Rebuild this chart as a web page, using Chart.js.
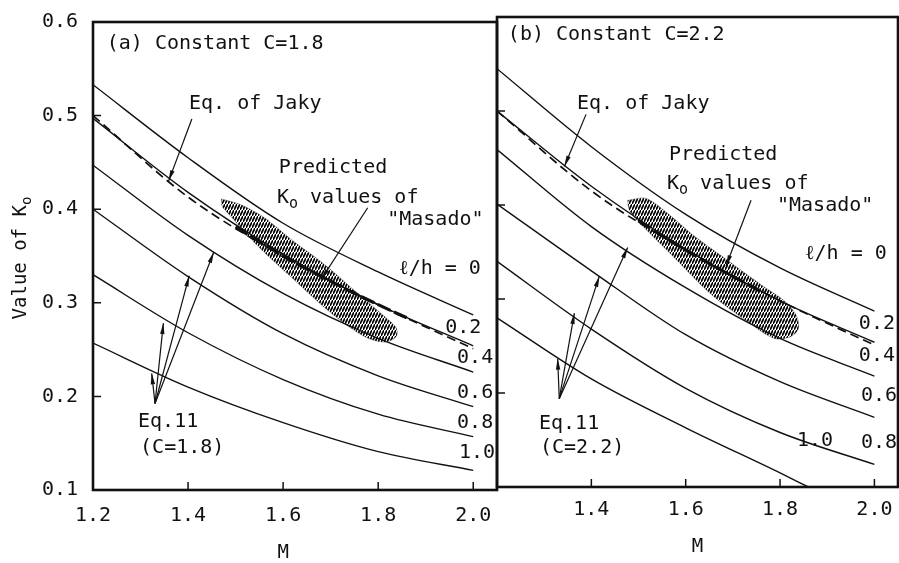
<!DOCTYPE html>
<html>
<head>
<meta charset="utf-8">
<script src="https://cdn.jsdelivr.net/npm/chart.js@4.4.1/dist/chart.umd.min.js"></script>
<style>
html, body { margin: 0; padding: 0; background: #fff; }
body { width: 899px; height: 563px; position: relative; overflow: hidden; }
canvas { position: absolute; top: 0; }
#left { left: 0; }
#right { left: 494px; }
</style>
</head>
<body>
<canvas id="left" width="500" height="563"></canvas>
<canvas id="right" width="405" height="563"></canvas>
<script>
// values, M on x, Ko on y
var mValues = [1.2, 1.4, 1.6, 1.8, 2.0];
var lhLabels = ['0', '0.2', '0.4', '0.6', '0.8', '1.0'];

// (a) constant C = 1.8
var a_lh00 = [0.533, 0.455, 0.385, 0.333, 0.287];
var a_lh02 = [0.497, 0.418, 0.352, 0.298, 0.254];
var a_lh04 = [0.447, 0.372, 0.310, 0.262, 0.226];
var a_lh06 = [0.400, 0.328, 0.267, 0.222, 0.189];
var a_lh08 = [0.330, 0.268, 0.218, 0.181, 0.157];
var a_lh10 = [0.257, 0.210, 0.172, 0.141, 0.121];
var a_jaky = [0.500, 0.413, 0.350, 0.298, 0.251];

// (b) constant C = 2.2
var b_lh00 = [0.545, 0.462, 0.390, 0.333, 0.287];
var b_lh02 = [0.500, 0.420, 0.353, 0.298, 0.254];
var b_lh04 = [0.459, 0.377, 0.312, 0.258, 0.218];
var b_lh06 = [0.401, 0.330, 0.262, 0.212, 0.174];
var b_lh08 = [0.340, 0.268, 0.205, 0.158, 0.124];
var b_lh10M = [1.2, 1.4, 1.6, 1.8, 1.86];
var b_lh10 = [0.280, 0.215, 0.163, 0.115, 0.100];
var b_jaky = [0.500, 0.415, 0.352, 0.298, 0.251];

// predicted Ko of "Masado" (hatched zone outline)
var a_masadoM = [1.470, 1.510, 1.560, 1.616, 1.687, 1.757, 1.814, 1.838, 1.838, 1.814, 1.771, 1.701, 1.616, 1.546, 1.489, 1.472];
var a_masadoK = [0.411, 0.405, 0.391, 0.368, 0.341, 0.310, 0.285, 0.273, 0.264, 0.258, 0.264, 0.289, 0.328, 0.361, 0.393, 0.403];
var b_masadoM = [1.477, 1.516, 1.562, 1.618, 1.689, 1.760, 1.809, 1.834, 1.839, 1.823, 1.788, 1.731, 1.654, 1.576, 1.512, 1.481];
var b_masadoK = [0.405, 0.407, 0.391, 0.367, 0.341, 0.315, 0.298, 0.283, 0.269, 0.260, 0.258, 0.276, 0.305, 0.344, 0.376, 0.394];

// heavy trace of the Jaky line through the zone
var a_traceM = [1.50, 1.60, 1.70, 1.80, 1.86];
var a_traceK = [0.381, 0.350, 0.323, 0.298, 0.284];
var b_traceM = [1.50, 1.60, 1.70, 1.76];
var b_traceK = [0.383, 0.352, 0.324, 0.308];

var FONT = '"DejaVu Sans Mono", monospace';
var INK = '#111';

function pts(ms, ks) {
	var out = [];
	for (var i = 0; i < ms.length; i++) {
		out.push({x: ms[i], y: ks[i]});
	}
	return out;
}

function curve(ms, ks, dashed) {
	return {
		data: pts(ms, ks),
		showLine: true,
		borderColor: INK,
		borderWidth: dashed ? 1.7 : 1.4,
		borderDash: dashed ? [9, 5] : [],
		pointRadius: 0,
		cubicInterpolationMode: 'monotone',
		fill: false,
		order: 1
	};
}

function trace(ms, ks) {
	var d = curve(ms, ks, true);
	d.borderWidth = 3.2;
	d.borderDash = [14, 4];
	d.order = 2;
	return d;
}

function hatch() {
	var c = document.createElement('canvas');
	c.width = 3;
	c.height = 6;
	var g = c.getContext('2d');
	g.strokeStyle = '#000';
	g.lineWidth = 1.7;
	g.beginPath();
	g.moveTo(0, 6);
	g.lineTo(3, 0);
	g.stroke();
	return g.createPattern(c, 'repeat');
}

function zone(ms, ks) {
	var d = pts(ms, ks);
	d.push({x: ms[0], y: ks[0]});
	return {
		data: d,
		showLine: true,
		borderColor: 'rgba(40,40,40,0.6)',
		borderWidth: 0.6,
		backgroundColor: hatch(),
		fill: 'shape',
		tension: 0.3,
		pointRadius: 0,
		order: 10
	};
}

// text and arrows of the figure, drawn in data coordinates
var figureNotes = {
	id: 'figureNotes',
	afterDraw: function(chart, args, opts) {
		var ctx = chart.ctx;
		var xs = chart.scales.x;
		var ys = chart.scales.y;
		var area = chart.chartArea;

		ctx.save();
		ctx.strokeStyle = INK;
		ctx.fillStyle = INK;

		// frame
		ctx.lineWidth = 2.6;
		ctx.strokeRect(area.left, area.top, area.right - area.left, area.bottom - area.top);

		// inward tick marks
		ctx.lineWidth = 1.5;
		ctx.beginPath();
		xs.ticks.forEach(function(t) {
			var px = xs.getPixelForValue(t.value);
			if (px > area.left + 2 && px < area.right - 2) {
				ctx.moveTo(px, area.bottom);
				ctx.lineTo(px, area.bottom - 8);
			}
		});
		ys.ticks.forEach(function(t) {
			var py = ys.getPixelForValue(t.value);
			if (py > area.top + 2 && py < area.bottom - 2) {
				ctx.moveTo(area.left, py);
				ctx.lineTo(area.left + 8, py);
			}
		});
		ctx.stroke();

		// arrows
		ctx.lineWidth = 1.2;
		(opts.arrows || []).forEach(function(a) {
			var x0 = xs.getPixelForValue(a[0]), y0 = ys.getPixelForValue(a[1]);
			var x1 = xs.getPixelForValue(a[2]), y1 = ys.getPixelForValue(a[3]);
			var ang = Math.atan2(y1 - y0, x1 - x0);
			ctx.beginPath();
			ctx.moveTo(x0, y0);
			ctx.lineTo(x1, y1);
			ctx.stroke();
			ctx.beginPath();
			ctx.moveTo(x1, y1);
			ctx.lineTo(x1 - 11 * Math.cos(ang) + 2.2 * Math.sin(ang), y1 - 11 * Math.sin(ang) - 2.2 * Math.cos(ang));
			ctx.lineTo(x1 - 11 * Math.cos(ang) - 2.2 * Math.sin(ang), y1 - 11 * Math.sin(ang) + 2.2 * Math.cos(ang));
			ctx.closePath();
			ctx.fill();
		});

		// labels
		ctx.textBaseline = 'middle';
		ctx.textAlign = 'left';
		(opts.texts || []).forEach(function(t) {
			var px = xs.getPixelForValue(t.x);
			var py = ys.getPixelForValue(t.y);
			ctx.font = '20px ' + FONT;
			if (t.sub) {
				ctx.fillText('K', px, py);
				var w = ctx.measureText('K').width;
				ctx.font = '15px ' + FONT;
				ctx.fillText('o', px + w, py + 6);
				var w2 = ctx.measureText('o').width;
				ctx.font = '20px ' + FONT;
				ctx.fillText(t.t, px + w + w2, py);
			} else {
				ctx.fillText(t.t, px, py);
			}
		});

		// axis titles
		if (opts.xTitle) {
			ctx.font = '19px ' + FONT;
			ctx.textAlign = 'center';
			ctx.fillText('M', xs.getPixelForValue(opts.xTitle[0]), opts.xTitle[1]);
		}
		if (opts.yTitle) {
			ctx.translate(opts.yTitle[0], opts.yTitle[1]);
			ctx.rotate(-Math.PI / 2);
			ctx.font = '19px ' + FONT;
			ctx.textAlign = 'left';
			var s = 'Value of K';
			var sw = ctx.measureText(s).width;
			ctx.font = '14px ' + FONT;
			var ow = ctx.measureText('o').width;
			var start = -(sw + ow) / 2;
			ctx.font = '19px ' + FONT;
			ctx.fillText(s, start, 0);
			ctx.font = '14px ' + FONT;
			ctx.fillText('o', start + sw, 6);
		}
		ctx.restore();
	}
};

function panel(canvasId, sets, notes, layout, showYLabels, xPad) {
	return new Chart(document.getElementById(canvasId), {
		type: 'scatter',
		data: {datasets: sets},
		plugins: [figureNotes],
		options: {
			responsive: false,
			animation: false,
			events: [],
			layout: {padding: layout.padding},
			plugins: {
				legend: {display: false},
				tooltip: {enabled: false},
				figureNotes: notes
			},
			scales: {
				x: {
					type: 'linear',
					min: 1.2,
					max: 2.05,
					grid: {display: false, drawTicks: false},
					border: {display: false},
					afterFit: function(s) {
						s.height = layout.xHeight;
						s.paddingLeft = 0;
						s.paddingRight = 0;
					},
					ticks: {
						stepSize: 0.2,
						includeBounds: false,
						padding: xPad,
						color: INK,
						font: {family: FONT, size: 20},
						maxRotation: 0,
						callback: function(v) {
							if (!showYLabels && Math.abs(v - 1.2) < 1e-6) {
								return '';
							}
							return v.toFixed(1);
						}
					}
				},
				y: {
					type: 'linear',
					min: 0.1,
					max: 0.6,
					grid: {display: false, drawTicks: false},
					border: {display: false},
					afterFit: function(s) {
						s.width = layout.yWidth;
						s.paddingTop = 0;
						s.paddingBottom = 0;
					},
					ticks: {
						stepSize: 0.1,
						display: showYLabels,
						padding: 15,
						color: INK,
						font: {family: FONT, size: 20},
						callback: function(v) { return v.toFixed(1); }
					}
				}
			}
		}
	});
}

var leftSets = [
	curve(mValues, a_lh00), curve(mValues, a_lh02), curve(mValues, a_lh04),
	curve(mValues, a_lh06), curve(mValues, a_lh08), curve(mValues, a_lh10),
	curve(mValues, a_jaky, true), trace(a_traceM, a_traceK), zone(a_masadoM, a_masadoK)
];
var rightSets = [
	curve(mValues, b_lh00), curve(mValues, b_lh02), curve(mValues, b_lh04),
	curve(mValues, b_lh06), curve(mValues, b_lh08), curve(b_lh10M, b_lh10),
	curve(mValues, b_jaky, true), trace(b_traceM, b_traceK), zone(b_masadoM, b_masadoK)
];

var leftNotes = {
	texts: [
		{t: '(a) Constant C=1.8', x: 1.229, y: 0.5765},
		{t: 'Eq. of Jaky', x: 1.402, y: 0.5124},
		{t: 'Predicted', x: 1.591, y: 0.444},
		{t: ' values of', x: 1.587, y: 0.412, sub: true},
		{t: '"Masado"', x: 1.819, y: 0.3885},
		{t: '\u2113/h = 0', x: 1.844, y: 0.336},
		{t: lhLabels[1], x: 1.941, y: 0.273},
		{t: lhLabels[2], x: 1.966, y: 0.241},
		{t: lhLabels[3], x: 1.966, y: 0.2036},
		{t: lhLabels[4], x: 1.966, y: 0.1716},
		{t: lhLabels[5], x: 1.970, y: 0.1395},
		{t: 'Eq.11', x: 1.2947, y: 0.1726},
		{t: '(C=1.8)', x: 1.299, y: 0.1449}
	],
	arrows: [
		[1.408, 0.4964, 1.359, 0.430],
		[1.778, 0.4016, 1.680, 0.325],
		[1.3305, 0.1924, 1.3235, 0.2246],
		[1.3305, 0.1924, 1.3481, 0.2783],
		[1.3305, 0.1924, 1.4025, 0.3290],
		[1.3305, 0.1924, 1.4540, 0.3541]
	],
	xTitle: [1.6, 553],
	yTitle: [21, 258]
};

var rightNotes = {
	texts: [
		{t: '(b) Constant C=2.2', x: 1.223, y: 0.5809},
		{t: 'Eq. of Jaky', x: 1.3696, y: 0.5074},
		{t: 'Predicted', x: 1.5646, y: 0.4532},
		{t: ' values of', x: 1.5603, y: 0.4223, sub: true},
		{t: '"Masado"', x: 1.7935, y: 0.399},
		{t: '\u2113/h = 0', x: 1.8528, y: 0.3479},
		{t: lhLabels[1], x: 1.967, y: 0.2734},
		{t: lhLabels[2], x: 1.967, y: 0.2394},
		{t: lhLabels[3], x: 1.9715, y: 0.1968},
		{t: lhLabels[4], x: 1.9715, y: 0.1468},
		{t: lhLabels[5], x: 1.8359, y: 0.149},
		{t: 'Eq.11', x: 1.289, y: 0.167},
		{t: '(C=2.2)', x: 1.291, y: 0.1415}
	],
	arrows: [
		[1.3887, 0.4964, 1.3428, 0.4409],
		[1.7385, 0.4050, 1.6855, 0.3351],
		[1.332, 0.194, 1.3286, 0.2366],
		[1.332, 0.194, 1.3640, 0.2850],
		[1.332, 0.194, 1.4170, 0.3244],
		[1.332, 0.194, 1.4770, 0.3548]
	],
	xTitle: [1.625, 547]
};

panel('left', leftSets, leftNotes, {padding: {top: 22, right: 3, bottom: 0, left: 0}, xHeight: 73, yWidth: 93}, true, 14);
panel('right', rightSets, rightNotes, {padding: {top: 17, right: 1, bottom: 0, left: 0}, xHeight: 76, yWidth: 3}, false, 11);
</script>
</body>
</html>
